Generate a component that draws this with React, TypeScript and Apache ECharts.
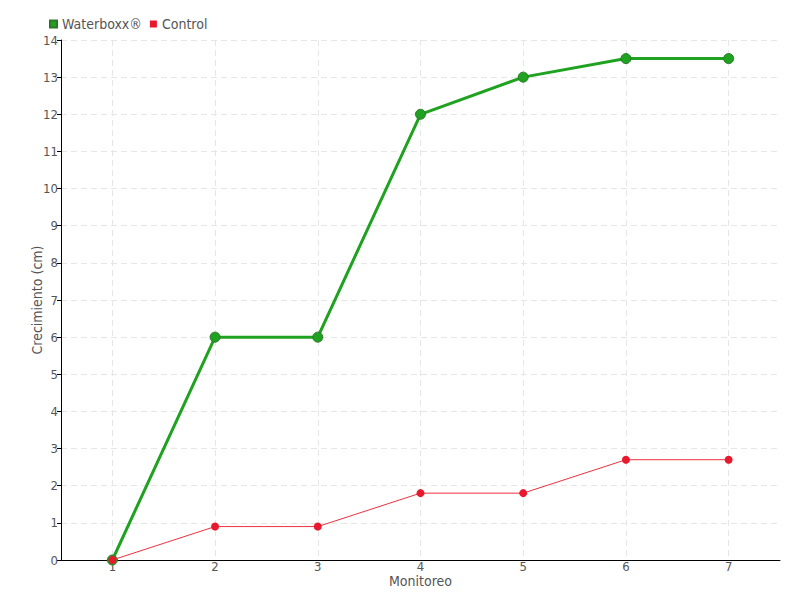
import React, { useEffect, useRef } from "react";
import * as echarts from "echarts";

const categories = ["1", "2", "3", "4", "5", "6", "7"];
const waterboxx = [0, 6, 6, 12, 13, 13.5, 13.5];
const control = [0, 0.9, 0.9, 1.8, 1.8, 2.7, 2.7];

const FONT = "'DejaVu Sans Condensed', 'DejaVu Sans', sans-serif";
const TXT = "#555";

export default function App() {
  const ref = useRef<HTMLDivElement>(null);
  useEffect(() => {
    if (!ref.current) return;
    const chart = echarts.init(ref.current, undefined, { renderer: "svg" });
    chart.setOption({
      animation: false,
      textStyle: { fontFamily: FONT },
      legend: {
        left: 44,
        top: 12,
        itemWidth: 7,
        itemHeight: 7,
        itemGap: 8,
        icon: "rect",
        textStyle: { fontFamily: FONT, fontSize: 14, color: TXT },
        data: [
          { name: "Waterboxx®", itemStyle: { color: "#1fa21f" } },
          { name: "Control", itemStyle: { color: "#e8192c" } },
        ],
      },
      grid: { left: 61, right: 20, top: 40, bottom: 40 },
      xAxis: {
        type: "category",
        data: categories,
        name: "Monitoreo",
        nameLocation: "middle",
        nameGap: 14,
        nameMoveOverlap: false,
        nameTextStyle: { fontFamily: FONT, fontSize: 14, color: TXT },
        axisLine: { lineStyle: { color: "#000", width: 1 } },
        axisTick: { alignWithLabel: true, length: 4, lineStyle: { color: "#000" } },
        axisLabel: { fontFamily: FONT, fontSize: 13, color: TXT, margin: 0 },
        splitLine: {
          show: true,
          alignWithLabel: true,
          lineStyle: { color: "#e6e6e6", type: [6, 4] },
        },
      },
      yAxis: {
        type: "value",
        min: 0,
        max: 14,
        interval: 1,
        name: "Crecimiento (cm)",
        nameLocation: "middle",
        nameGap: 17,
        nameMoveOverlap: false,
        nameTextStyle: { fontFamily: FONT, fontSize: 14, color: TXT },
        axisLine: { show: true, lineStyle: { color: "#000", width: 1 } },
        axisTick: { show: true, length: 4, lineStyle: { color: "#000" } },
        axisLabel: { fontFamily: FONT, fontSize: 13, color: TXT, margin: 3 },
        splitLine: { show: true, lineStyle: { color: "#e6e6e6", type: [6, 4] } },
      },
      series: [
        {
          name: "Waterboxx®",
          type: "line",
          data: waterboxx,
          symbol: "circle",
          symbolSize: 10,
          lineStyle: { color: "#1fa21f", width: 3 },
          itemStyle: { color: "#1fa21f", borderColor: "#2a7a2a", borderWidth: 1 },
          z: 2,
        },
        {
          name: "Control",
          type: "line",
          data: control,
          symbol: "circle",
          symbolSize: 8,
          lineStyle: { color: "#f0303f", width: 1 },
          itemStyle: { color: "#e8192c" },
          z: 3,
        },
      ],
    });
    return () => chart.dispose();
  }, []);
  return <div ref={ref} style={{ width: 800, height: 600, position: "absolute", left: 0, top: 0 }} />;
}
